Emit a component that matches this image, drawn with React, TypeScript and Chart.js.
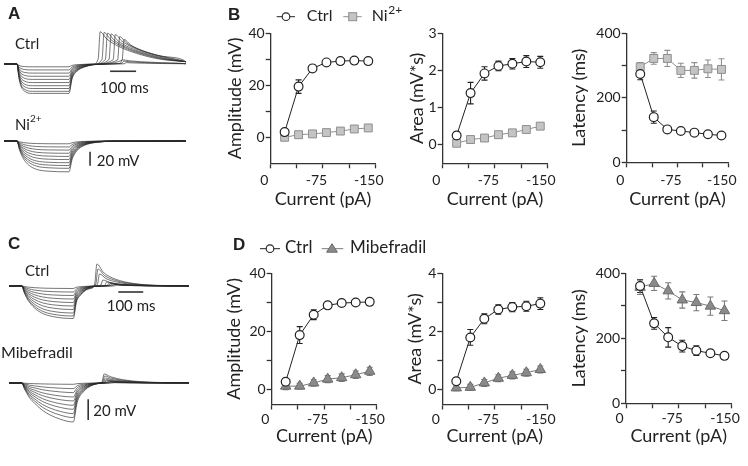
import React, { useEffect, useRef } from 'react';
import { Chart, registerables } from 'chart.js';

Chart.register(...registerables);

// ---------------- summary data (panels B and D) ----------------
const currents = [-20, -40, -60, -80, -100, -120, -140];
const xTicks = [0, -37.5, -75, -112.5, -150];
const xTickLabels = [0, -75, -150];

const ampTicks = [0, 10, 20, 30, 40];
const ampLabels = [0, 20, 40];
const areaTicksB = [0, 1, 2, 3];
const areaLabelsB = [0, 1, 2, 3];
const areaTicksD = [0, 1, 2, 3, 4];
const areaLabelsD = [0, 2, 4];
const latTicks = [0, 100, 200, 300, 400];
const latLabels = [0, 200, 400];

// B: Ctrl vs Ni2+
const ampCtrlB = [2, 19.5, 26.5, 28.8, 29.3, 29.5, 29.3];
const ampCtrlBErr = [1, 2.6, 1.2, 1, 1, 1, 1.1];
const ampNiB = [0, 1, 1.3, 1.8, 2.4, 3.2, 3.6];
const ampNiBErr = [1.2, 1, 1, 1, 1, 1, 1];
const areaCtrlB = [0.25, 1.39, 1.92, 2.12, 2.18, 2.24, 2.22];
const areaCtrlBErr = [0.1, 0.29, 0.18, 0.13, 0.14, 0.16, 0.16];
const areaNiB = [0.04, 0.14, 0.18, 0.27, 0.32, 0.41, 0.5];
const areaNiBErr = [0.07, 0.06, 0.07, 0.06, 0.05, 0.06, 0.08];
const latCtrlB = [274, 140, 102, 97, 92, 87, 83];
const latCtrlBErr = [18, 19, 6, 5, 5, 5, 5];
const latNiB = [296, 322, 322, 285, 285, 290, 288];
const latNiBErr = [13, 18, 25, 22, 24, 27, 33];

// D: Ctrl vs Mibefradil
const ampCtrlD = [2.8, 18.8, 25.8, 29, 29.8, 30, 30.2];
const ampCtrlDErr = [1, 2.9, 1.7, 1, 1, 1, 1];
const ampMibD = [1.3, 1.3, 2.4, 3.7, 4.2, 5.2, 6.4];
const ampMibDErr = [1.2, 1, 1.1, 1.2, 1.3, 1.3, 1.4];
const areaCtrlD = [0.3, 1.8, 2.44, 2.76, 2.84, 2.87, 2.96];
const areaCtrlDErr = [0.1, 0.27, 0.17, 0.16, 0.16, 0.17, 0.2];
const areaMibD = [0.07, 0.09, 0.24, 0.4, 0.5, 0.59, 0.7];
const areaMibDErr = [0.1, 0.1, 0.12, 0.12, 0.12, 0.12, 0.12];
const latCtrlD = [361, 246, 203, 176, 162, 154, 146];
const latCtrlDErr = [20, 18, 30, 18, 15, 10, 10];
const latMibD = [357, 369, 346, 318, 310, 299, 285];
const latMibDErr = [22, 22, 25, 25, 25, 28, 30];

// ---------------- voltage traces (panels A and C), ms / mV ----------------
const aCtrlLevels = [-4, -8.5, -13, -17.5, -22, -26.5, -31, -35, -39, -42];
const aCtrlPeaks = [2, 4, 6, 35, 39, 42, 43, 44, 45, 46];
const aCtrlPeakTimes = [470, 460, 455, 462, 445, 428, 412, 398, 385, 370];
const aCtrlOnT = [50, 57, 65, 80, 110, 250];
const aCtrlOnF = [0, 0.45, 0.75, 0.93, 1, 1];
const aCtrlOffT = [262, 280, 310, 340];
const aCtrlOffF = [0.5, 0.25, 0.1, 0.03];
const aCtrlDecT = [0, 25, 70, 140, 230, 330];
const aCtrlDecF = [1, 0.78, 0.55, 0.33, 0.15, 0.05];

const aNiLevels = [-4, -8.5, -13, -17.5, -22, -26.5, -31, -35, -39, -44];
const aNiOnT = [50, 60, 75, 95, 125, 170, 250];
const aNiOnF = [0, 0.3, 0.58, 0.78, 0.92, 0.98, 1];
const aNiOffT = [262, 280, 310, 360, 420];
const aNiOffF = [0.6, 0.32, 0.14, 0.04, 0.01];

const cCtrlLevels = [-2.5, -6, -9.5, -13, -16.5, -20, -23.5, -27, -30, -32.5];
const cCtrlPeaks = [1, 1.5, 2, 2.5, 3, 4, 6, 12, 17, 22];
const cCtrlPeakTimes = [420, 410, 400, 395, 390, 380, 365, 352, 346, 342];
const cCtrlOnT = [50, 60, 75, 100, 130, 170, 250];
const cCtrlOnF = [0, 0.22, 0.45, 0.68, 0.84, 0.94, 1];
const cCtrlOffT = [262, 280, 305, 330];
const cCtrlOffF = [0.5, 0.27, 0.1, 0.02];
const cCtrlDecT = [0, 25, 70, 140, 230, 330];
const cCtrlDecF = [1, 0.62, 0.32, 0.12, 0.03, 0.01];

const cMibLevels = [-1.3, -5.6, -9.6, -14, -18, -22.3, -26.3, -30.6, -34.6, -39];
const cMibPeaks = [0.3, 0.6, 1, 1.5, 2, 2.5, 3.5, 5, 7, 9];
const cMibPeakTimes = [410, 400, 395, 390, 385, 380, 378, 375, 372, 370];
const cMibOnT = [50, 60, 80, 100, 130, 160, 200, 250];
const cMibOnF = [0, 0.15, 0.38, 0.52, 0.7, 0.82, 0.93, 1];
const cMibOffT = [265, 290, 320, 350];
const cMibOffF = [0.5, 0.22, 0.07, 0.01];
const cMibDecT = [0, 25, 70, 140, 230, 330];
const cMibDecF = [1, 0.7, 0.38, 0.15, 0.05, 0.02];

// scale bars (ms / mV in each trace panel)
const barA_ms = [408, 508];
const barA_msLevel = -10.4;
const barA_mVTime = 331;
const barA_mV = [-15.3, -35.3];
const barC_ms = [425, 522];
const barC_msLevel = -6;
const barC_mVTime = 308;
const barC_mV = [-16.3, -37];

// ---------------- helpers ----------------
const FONT = 'Lato, "Open Sans", sans-serif';
const INK = '#222';

function buildTrace(level: number, pk: number, tp: number, onT: number[], onF: number[], offT: number[], offF: number[], decT: number[], decF: number[]) {
  const pts: any[] = [{ x: 0, y: 0 }];
  onT.forEach((t, i) => pts.push({ x: t, y: level * onF[i] }));
  const limit = pk > 0 ? tp - 8 : 700;
  offT.forEach((t, i) => { if (t < limit) pts.push({ x: t, y: level * offF[i] }); });
  if (pk > 0) {
    pts.push({ x: tp - 8, y: pk * 0.15 });
    decT.forEach((d, i) => { const t = tp + d; if (t < 700) pts.push({ x: t, y: pk * decF[i] }); });
    const last = pts[pts.length - 1];
    pts.push({ x: 700, y: last.y * 0.5 });
  } else {
    pts.push({ x: 700, y: 0 });
  }
  return pts;
}

function traceConfig(traces: any[][], bars: any[][], yMin: number, yMax: number) {
  const datasets: any[] = traces.map((pts) => ({
    data: pts,
    borderColor: 'rgba(40,40,40,0.8)',
    borderWidth: 0.8,
    pointRadius: 0,
    cubicInterpolationMode: 'monotone',
    fill: false,
  }));
  bars.forEach((b) => datasets.push({ data: b, borderColor: '#333', borderWidth: 1.6, pointRadius: 0, tension: 0 }));
  return {
    type: 'line',
    data: { datasets },
    options: {
      responsive: false,
      animation: false,
      events: [],
      layout: { padding: 0 },
      plugins: { legend: { display: false }, tooltip: { enabled: false } },
      scales: {
        x: { type: 'linear', display: false, min: 0, max: 700 },
        y: { type: 'linear', display: false, min: yMin, max: yMax },
      },
    },
  };
}

const errorBarPlugin = {
  id: 'errorBars',
  beforeDatasetsDraw(chart: any) {
    const ctx = chart.ctx;
    const yScale = chart.scales.y;
    chart.data.datasets.forEach((ds: any, i: number) => {
      if (!ds.errors) return;
      const meta = chart.getDatasetMeta(i);
      ctx.save();
      ctx.strokeStyle = ds.errorColor;
      ctx.lineWidth = 1.1;
      meta.data.forEach((pt: any, j: number) => {
        const v = ds.data[j].y;
        const e = ds.errors[j];
        const yt = yScale.getPixelForValue(v + e);
        const yb = yScale.getPixelForValue(v - e);
        const x = pt.x;
        ctx.beginPath();
        ctx.moveTo(x, yt); ctx.lineTo(x, yb);
        ctx.moveTo(x - 3, yt); ctx.lineTo(x + 3, yt);
        ctx.moveTo(x - 3, yb); ctx.lineTo(x + 3, yb);
        ctx.stroke();
      });
      ctx.restore();
    });
  },
};

function box(s: any) {
  const W0 = s.axisX - s.titleCx + 10.8;
  const left = Math.round(s.axisX - W0);
  const W = s.axisX - left;
  const top = Math.round(s.plotTop - 12);
  const padTop = s.plotTop - top;
  const H0 = s.xTitleCy - s.plotBottom + 10.8;
  const height = Math.round(s.plotBottom - top + H0);
  const H = top + height - s.plotBottom;
  const width = Math.round(W + s.plotW + 18);
  const padRight = width - W - s.plotW;
  return { left, top, width, height, W, H, padTop, padRight };
}

const drugStyles: any = {
  ni: { pointStyle: 'rect', pointRadius: 5.6, bg: '#c4c4c4', border: '#8f8f8f', line: '#8f8f8f' },
  mib: { pointStyle: 'triangle', pointRadius: 6, bg: '#8a8a8a', border: '#6a6a6a', line: '#7a7a7a' },
};

function dataConfig(s: any, b: any) {
  const ds = drugStyles[s.drugKind];
  const tickFont = { family: FONT, size: 14 };
  const titleFont = { family: FONT, size: 18 };
  const gridOpts = { display: true, drawOnChartArea: false, drawTicks: true, tickLength: 5, tickWidth: 1.3, tickColor: '#333' };
  const borderOpts = { display: true, color: '#333', width: 1.3 };
  return {
    type: 'line',
    data: {
      datasets: [
        {
          data: currents.map((x, i) => ({ x, y: s.ctrl[i] })),
          errors: s.ctrlErr, errorColor: '#222',
          borderColor: '#222', borderWidth: 1,
          pointStyle: 'circle', pointRadius: 4.4,
          pointBackgroundColor: '#fff', pointBorderColor: '#222', pointBorderWidth: 1.2,
          order: 0,
        },
        {
          data: currents.map((x, i) => ({ x, y: s.drug[i] })),
          errors: s.drugErr, errorColor: ds.line,
          borderColor: ds.line, borderWidth: 1,
          pointStyle: ds.pointStyle, pointRadius: ds.pointRadius,
          pointBackgroundColor: ds.bg, pointBorderColor: ds.border, pointBorderWidth: 1,
          order: 1,
        },
      ],
    },
    options: {
      responsive: false,
      animation: false,
      events: [],
      layout: { padding: { top: b.padTop, right: b.padRight, left: 0, bottom: 0 } },
      plugins: { legend: { display: false }, tooltip: { enabled: false } },
      scales: {
        x: {
          type: 'linear', min: -150, max: 0, reverse: true,
          afterBuildTicks: (sc: any) => { sc.ticks = xTicks.map((v) => ({ value: v })); },
          afterFit: (sc: any) => { sc.height = b.H; },
          ticks: {
            callback: (v: number) => (xTickLabels.includes(v) ? String(v) : ''),
            autoSkip: false, maxRotation: 0, minRotation: 0,
            padding: s.xPad, labelOffset: -6.5, font: tickFont, color: INK,
          },
          grid: gridOpts, border: borderOpts,
          title: { display: true, text: 'Current (pA)', font: titleFont, color: INK, padding: 0 },
        },
        y: {
          type: 'linear', min: s.yMin, max: s.yMax,
          afterBuildTicks: (sc: any) => { sc.ticks = s.yTicks.map((v: number) => ({ value: v })); },
          afterFit: (sc: any) => { sc.width = b.W; },
          ticks: {
            callback: (v: number) => (s.yLabels.includes(v) ? String(v) : ''),
            autoSkip: false, padding: 1, font: tickFont, color: INK,
          },
          grid: gridOpts, border: borderOpts,
          title: { display: true, text: s.yTitle, font: titleFont, color: INK, padding: 0 },
        },
      },
    },
    plugins: [errorBarPlugin],
  };
}

const specs: any[] = [
  { axisX: 270.7, plotTop: 33.3, plotBottom: 163.3, plotW: 105.3, titleCx: 235, xTitleCy: 199, xPad: 4,
    yMin: -10, yMax: 40, yTicks: ampTicks, yLabels: ampLabels, yTitle: 'Amplitude (mV)',
    ctrl: ampCtrlB, ctrlErr: ampCtrlBErr, drug: ampNiB, drugErr: ampNiBErr, drugKind: 'ni' },
  { axisX: 442.7, plotTop: 33.3, plotBottom: 163.3, plotW: 105, titleCx: 417, xTitleCy: 199, xPad: 4,
    yMin: -0.5, yMax: 3, yTicks: areaTicksB, yLabels: areaLabelsB, yTitle: 'Area (mV*s)',
    ctrl: areaCtrlB, ctrlErr: areaCtrlBErr, drug: areaNiB, drugErr: areaNiBErr, drugKind: 'ni' },
  { axisX: 626.7, plotTop: 33.3, plotBottom: 162.3, plotW: 103, titleCx: 579, xTitleCy: 199, xPad: 5,
    yMin: 0, yMax: 400, yTicks: latTicks, yLabels: latLabels, yTitle: 'Latency (ms)',
    ctrl: latCtrlB, ctrlErr: latCtrlBErr, drug: latNiB, drugErr: latNiBErr, drugKind: 'ni' },
  { axisX: 271.7, plotTop: 273.3, plotBottom: 404.5, plotW: 105, titleCx: 233.3, xTitleCy: 436, xPad: 2,
    yMin: -5, yMax: 40, yTicks: ampTicks, yLabels: ampLabels, yTitle: 'Amplitude (mV)',
    ctrl: ampCtrlD, ctrlErr: ampCtrlDErr, drug: ampMibD, drugErr: ampMibDErr, drugKind: 'mib' },
  { axisX: 442.3, plotTop: 273.3, plotBottom: 404.5, plotW: 105, titleCx: 415, xTitleCy: 436, xPad: 2,
    yMin: -0.5, yMax: 4, yTicks: areaTicksD, yLabels: areaLabelsD, yTitle: 'Area (mV*s)',
    ctrl: areaCtrlD, ctrlErr: areaCtrlDErr, drug: areaMibD, drugErr: areaMibDErr, drugKind: 'mib' },
  { axisX: 626, plotTop: 273.3, plotBottom: 403.3, plotW: 105.5, titleCx: 578.7, xTitleCy: 436, xPad: 2,
    yMin: 0, yMax: 400, yTicks: latTicks, yLabels: latLabels, yTitle: 'Latency (ms)',
    ctrl: latCtrlD, ctrlErr: latCtrlDErr, drug: latMibD, drugErr: latMibDErr, drugKind: 'mib' },
];

function ChartCanvas({ left, top, width, height, make }: any) {
  const ref = useRef<HTMLCanvasElement | null>(null);
  useEffect(() => {
    const chart = new Chart(ref.current as any, make());
    return () => chart.destroy();
  }, []);
  return (
    <canvas ref={ref} width={width} height={height}
      style={{ position: 'absolute', left, top, width, height }} />
  );
}

function Txt({ x, b, size, bold, family, children }: any) {
  const fam = family || FONT;
  const asc = family ? 0.8465 : 0.887;
  return (
    <div style={{ position: 'absolute', left: x, top: b - asc * size, fontFamily: fam, fontSize: size,
      lineHeight: `${size}px`, fontWeight: bold ? 700 : 400, color: INK, whiteSpace: 'nowrap' }}>
      {children}
    </div>
  );
}

const LETTER = '"Liberation Sans", Arial, sans-serif';

export default function App() {
  const aCtrlTraces = aCtrlLevels.map((l, i) => buildTrace(l, aCtrlPeaks[i], aCtrlPeakTimes[i], aCtrlOnT, aCtrlOnF, aCtrlOffT, aCtrlOffF, aCtrlDecT, aCtrlDecF));
  const aNiTraces = aNiLevels.map((l) => buildTrace(l, 0, 0, aNiOnT, aNiOnF, aNiOffT, aNiOffF, [], []));
  const cCtrlTraces = cCtrlLevels.map((l, i) => buildTrace(l, cCtrlPeaks[i], cCtrlPeakTimes[i], cCtrlOnT, cCtrlOnF, cCtrlOffT, cCtrlOffF, cCtrlDecT, cCtrlDecF));
  const cMibTraces = cMibLevels.map((l, i) => buildTrace(l, cMibPeaks[i], cMibPeakTimes[i], cMibOnT, cMibOnF, cMibOffT, cMibOffF, cMibDecT, cMibDecF));

  const barAms = barA_ms.map((t) => ({ x: t, y: barA_msLevel }));
  const barAmV = barA_mV.map((v) => ({ x: barA_mVTime, y: v }));
  const barCms = barC_ms.map((t) => ({ x: t, y: barC_msLevel }));
  const barCmV = barC_mV.map((v) => ({ x: barC_mVTime, y: v }));

  return (
    <div style={{ position: 'absolute', left: 0, top: 0, width: 748, height: 466, background: '#fff', overflow: 'hidden' }}>
      <ChartCanvas left={4} top={22} width={182} height={84} make={() => traceConfig(aCtrlTraces, [barAms], -60, 60)} />
      <ChartCanvas left={4} top={99} width={182} height={84} make={() => traceConfig(aNiTraces, [barAmV], -60, 60)} />
      <ChartCanvas left={9} top={236} width={180} height={100} make={() => traceConfig(cCtrlTraces, [barCms], -50, 50)} />
      <ChartCanvas left={9} top={333} width={180} height={100} make={() => traceConfig(cMibTraces, [barCmV], -50, 50)} />

      {specs.map((s, i) => {
        const b = box(s);
        return <ChartCanvas key={i} left={b.left} top={b.top} width={b.width} height={b.height} make={() => dataConfig(s, b)} />;
      })}

      <svg width={748} height={466} style={{ position: 'absolute', left: 0, top: 0, pointerEvents: 'none' }}>
        <line x1={276.7} y1={16.7} x2={295} y2={16.7} stroke="#222" strokeWidth={1} />
        <circle cx={286} cy={16.7} r={3.8} fill="#fff" stroke="#222" strokeWidth={1.1} />
        <line x1={343.3} y1={16.7} x2={361.7} y2={16.7} stroke="#8f8f8f" strokeWidth={1} />
        <rect x={348.7} y={12.7} width={8} height={8} fill="#c4c4c4" stroke="#8f8f8f" strokeWidth={1} />
        <line x1={260} y1={248.7} x2={280} y2={248.7} stroke="#222" strokeWidth={1} />
        <circle cx={270} cy={248.7} r={3.8} fill="#fff" stroke="#222" strokeWidth={1.1} />
        <line x1={321.7} y1={248.7} x2={343.3} y2={248.7} stroke="#7a7a7a" strokeWidth={1} />
        <polygon points="332,243.7 337.4,252.2 326.6,252.2" fill="#8a8a8a" stroke="#6a6a6a" strokeWidth={1} />
      </svg>

      <Txt x={8} b={19} size={17} bold family={LETTER}>A</Txt>
      <Txt x={228} b={20} size={17} bold family={LETTER}>B</Txt>
      <Txt x={8} b={249} size={17} bold family={LETTER}>C</Txt>
      <Txt x={233} b={250} size={17} bold family={LETTER}>D</Txt>

      <Txt x={15} b={49.3} size={15}>Ctrl</Txt>
      <Txt x={15} b={130} size={15}>Ni</Txt>
      <Txt x={30} b={122} size={10}>2+</Txt>
      <Txt x={100} b={93.3} size={15}>100 ms</Txt>
      <Txt x={96.7} b={166} size={15}>20 mV</Txt>

      <Txt x={25} b={276.7} size={15}>Ctrl</Txt>
      <Txt x={106.7} b={311.7} size={15}>100 ms</Txt>
      <Txt x={1} b={358.3} size={16}>Mibefradil</Txt>
      <Txt x={93.3} b={416.7} size={15}>20 mV</Txt>

      <Txt x={306.7} b={20.7} size={16}>Ctrl</Txt>
      <Txt x={371.7} b={20.7} size={16}>Ni</Txt>
      <Txt x={388.3} b={14.5} size={12}>2+</Txt>
      <Txt x={285} b={252.7} size={17}>Ctrl</Txt>
      <Txt x={350} b={252.7} size={17}>Mibefradil</Txt>
    </div>
  );
}
